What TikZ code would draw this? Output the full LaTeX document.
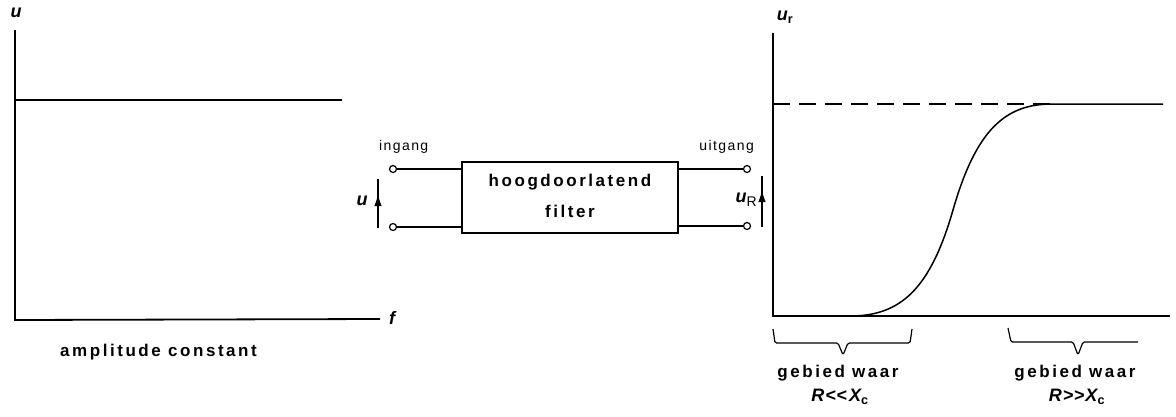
\documentclass[tikz,border=0pt]{standalone}
\usepackage{fontspec}
\setmainfont{Liberation Sans}
\newfontfamily\lblfont[LetterSpace=15]{Liberation Sans}
\newfontfamily\smallfont[LetterSpace=10]{Liberation Sans}
\usetikzlibrary{arrows.meta}
\begin{document}
\begin{tikzpicture}[x=1pt,y=-1pt,
  axis/.style={line width=1.8pt},
  thin line/.style={line width=1.2pt},
  lbl/.style={font=\lblfont\bfseries\fontsize{17}{19}\selectfont, inner sep=0pt},
  smalllbl/.style={font=\smallfont\fontsize{14}{16}\selectfont, inner sep=0pt},
  var/.style={font=\bfseries\itshape\fontsize{18}{20}\selectfont, inner sep=0pt},
  rel/.style={font=\bfseries\itshape\fontsize{18}{20}\selectfont, inner sep=0pt},
  term/.style={circle, draw, fill=white, line width=1.2pt, minimum size=7pt, inner sep=0pt},
  filterbox/.style={draw, line width=1.3pt, minimum width=216pt, minimum height=71pt, inner sep=0pt, align=center},
  vtip/.style={-{Latex[length=12pt,width=7.5pt]}, line width=1.2pt},
  bracepath/.style={line width=1.2pt, rounded corners=1.5pt}
]
\useasboundingbox (0,0) rectangle (1176,416);

% ---------- left graph ----------
\coordinate (lo) at (15,320);
\coordinate (ltop) at (15,30);
\coordinate (lend) at (380,319);
\draw[axis] (ltop) -- (lo) -- (lend);
\coordinate (la) at (15,100);
\coordinate (lb) at (342,100);
\draw[axis] (la) -- (lb);
\node[var] (lu) at (16,13) {u};
\node[var] (lf) at (392,318) {f};
\node[lbl, anchor=west] (amp) at (60,352) {amplitude constant};

% ---------- filter block ----------
\node[filterbox] (box) at (570,197.5) {};
\node[lbl] (t1) at (570,182) {hoogdoorlatend};
\node[lbl] (t2) at (570,211) {filter};

\node[term] (i1) at (393,169) {};
\node[term] (i2) at (393,227) {};
\draw[thin line] (i1) -- (i1 -| box.west);
\draw[thin line] (i2) -- (i2 -| box.west);
\node[smalllbl, anchor=west] (ing) at (379,147) {ingang};
\coordinate (ua) at (378,228);
\coordinate (ub) at (378,179);
\coordinate (uc) at (378,194);
\draw[thin line] (ua) -- (ub);
\draw[vtip] (ua) -- (uc);
\node[var] (uin) at (362,201) {u};

\node[term] (o1) at (747,169) {};
\node[term] (o2) at (747,226) {};
\draw[thin line] (o1) -- (o1 -| box.east);
\draw[thin line] (o2) -- (o2 -| box.east);
\node[smalllbl, anchor=east] (uit) at (754,147) {uitgang};
\coordinate (oa) at (762,227);
\coordinate (ob) at (762,176);
\coordinate (oc) at (762,190);
\draw[thin line] (oa) -- (ob);
\draw[vtip] (oa) -- (oc);
\node[var, anchor=east] (ur) at (757,200) {u\raisebox{-4pt}{\upshape\mdseries\fontsize{14}{16}\selectfont R}};

% ---------- right graph ----------
\coordinate (ro) at (773,316);
\coordinate (rtop) at (773,33);
\coordinate (rend) at (1170,316);
\draw[axis] (rtop) -- (ro) -- (rend);
\node[var] (rur) at (785,17) {u\textsubscript{\upshape r}};
\coordinate (da) at (773,104);
\coordinate (db) at (1052,104);
\coordinate (dc) at (1163,104);
\draw[axis, dash pattern=on 17pt off 9pt] (da) -- (db);
\draw[line width=1.5pt] (ro) -- (850,316) .. controls (900,316) and (930,290) .. (953,210)
  .. controls (976,130) and (1005,104) .. (db) -- (dc);

% braces
\draw[bracepath] (773,329) -- (775,343) -- (838,343) -- (843,355) -- (848,343) -- (910,343) -- (912,329);
\draw[bracepath] (1008,328) -- (1011,342) -- (1073,342) -- (1078,355) -- (1083,342) -- (1138,342);

\node[lbl] (g1) at (838,373) {gebied waar};
\node[rel] (r1) at (840,397) {R\kern1pt<\kern0.5pt<\kern2pt X\textsubscript{\upshape c}};
\node[lbl] (g2) at (1075,373) {gebied waar};
\node[rel] (r2) at (1077,397) {R\kern1pt>\kern0.5pt>\kern1pt X\textsubscript{\upshape c}};
\end{tikzpicture}
\end{document}
